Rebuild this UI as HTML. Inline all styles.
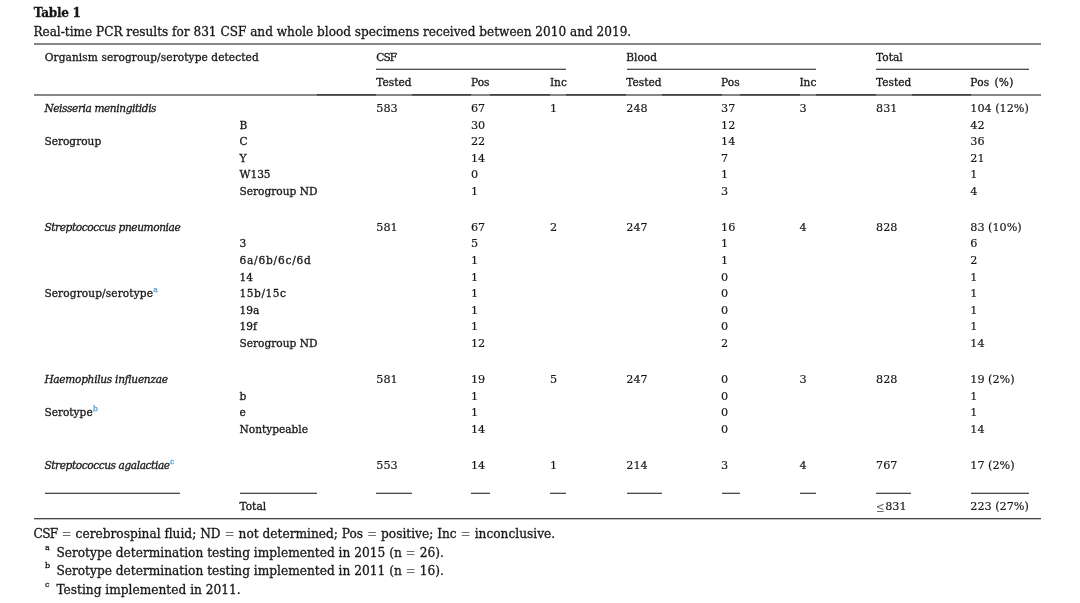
<!DOCTYPE html>
<html lang="en"><head><meta charset="utf-8"><title>Table 1</title>
<style>
html,body{margin:0;padding:0;background:#fff;}
body{width:1080px;height:603px;position:relative;overflow:hidden;color:#181818;
 font-family:"DejaVu Serif","Liberation Serif",serif;}
.t{position:absolute;white-space:nowrap;line-height:1;-webkit-text-stroke:0.3px currentColor;}
.b{font-size:10.6px;}
.c{font-size:12.2px;}
.bold{font-weight:bold;}
.n{font-size:11.2px;-webkit-text-stroke-width:0.18px;}
.it{font-style:italic;letter-spacing:-0.42px;}
.l{position:absolute;}
#w{position:absolute;left:0;top:0;width:1080px;height:603px;will-change:transform;}
sup{font-size:7.5px;color:#4aa3df;vertical-align:baseline;position:relative;top:-5.2px;line-height:0;font-style:normal;letter-spacing:0;margin-left:0.3px}
sup.fs{color:#181818;top:-6.8px;font-size:8px;margin:0}
.eq{color:#707070;-webkit-text-stroke:0}
.le{color:#6a6a6a;-webkit-text-stroke:0;font-size:14px;line-height:0;display:inline-block;transform:scaleX(0.75);transform-origin:0 50%;margin-right:-2.6px;position:relative;top:1.6px;left:0.3px}
</style></head><body>
<div id="w">

<div class="l" style="left:33.6px;top:43.0px;width:1007.0px;height:2px;background:#868686"></div>
<div class="l" style="left:33.6px;top:94.0px;width:1007.0px;height:2px;background:#868686"></div>
<div class="l" style="left:317.0px;top:94.0px;width:59.4px;height:1px;background:#424242"></div>
<div class="l" style="left:317.0px;top:95.0px;width:59.4px;height:1px;background:#5e5e5e"></div>
<div class="l" style="left:411.8px;top:94.0px;width:59.6px;height:1px;background:#424242"></div>
<div class="l" style="left:411.8px;top:95.0px;width:59.6px;height:1px;background:#5e5e5e"></div>
<div class="l" style="left:490.0px;top:94.0px;width:60.4px;height:1px;background:#424242"></div>
<div class="l" style="left:490.0px;top:95.0px;width:60.4px;height:1px;background:#5e5e5e"></div>
<div class="l" style="left:566.2px;top:94.0px;width:60.3px;height:1px;background:#424242"></div>
<div class="l" style="left:566.2px;top:95.0px;width:60.3px;height:1px;background:#5e5e5e"></div>
<div class="l" style="left:662.0px;top:94.0px;width:59.5px;height:1px;background:#424242"></div>
<div class="l" style="left:662.0px;top:95.0px;width:59.5px;height:1px;background:#5e5e5e"></div>
<div class="l" style="left:740.0px;top:94.0px;width:60.0px;height:1px;background:#424242"></div>
<div class="l" style="left:740.0px;top:95.0px;width:60.0px;height:1px;background:#5e5e5e"></div>
<div class="l" style="left:816.3px;top:94.0px;width:60.1px;height:1px;background:#424242"></div>
<div class="l" style="left:816.3px;top:95.0px;width:60.1px;height:1px;background:#5e5e5e"></div>
<div class="l" style="left:911.5px;top:94.0px;width:59.5px;height:1px;background:#424242"></div>
<div class="l" style="left:911.5px;top:95.0px;width:59.5px;height:1px;background:#5e5e5e"></div>
<div class="l" style="left:376.4px;top:68.0px;width:189.8px;height:1px;background:#c2c2c2"></div>
<div class="l" style="left:376.4px;top:69.0px;width:189.8px;height:1px;background:#505050"></div>
<div class="l" style="left:626.5px;top:68.0px;width:189.8px;height:1px;background:#c2c2c2"></div>
<div class="l" style="left:626.5px;top:69.0px;width:189.8px;height:1px;background:#505050"></div>
<div class="l" style="left:876.4px;top:68.0px;width:152.6px;height:1px;background:#c2c2c2"></div>
<div class="l" style="left:876.4px;top:69.0px;width:152.6px;height:1px;background:#505050"></div>
<div class="l" style="left:44.8px;top:492.0px;width:135.6px;height:1px;background:#c6c6c6"></div>
<div class="l" style="left:44.8px;top:493.0px;width:135.6px;height:1px;background:#4c4c4c"></div>
<div class="l" style="left:240.2px;top:492.0px;width:76.8px;height:1px;background:#c6c6c6"></div>
<div class="l" style="left:240.2px;top:493.0px;width:76.8px;height:1px;background:#4c4c4c"></div>
<div class="l" style="left:376.4px;top:492.0px;width:35.4px;height:1px;background:#c6c6c6"></div>
<div class="l" style="left:376.4px;top:493.0px;width:35.4px;height:1px;background:#4c4c4c"></div>
<div class="l" style="left:471.4px;top:492.0px;width:18.6px;height:1px;background:#c6c6c6"></div>
<div class="l" style="left:471.4px;top:493.0px;width:18.6px;height:1px;background:#4c4c4c"></div>
<div class="l" style="left:550.4px;top:492.0px;width:15.8px;height:1px;background:#c6c6c6"></div>
<div class="l" style="left:550.4px;top:493.0px;width:15.8px;height:1px;background:#4c4c4c"></div>
<div class="l" style="left:626.5px;top:492.0px;width:35.5px;height:1px;background:#c6c6c6"></div>
<div class="l" style="left:626.5px;top:493.0px;width:35.5px;height:1px;background:#4c4c4c"></div>
<div class="l" style="left:721.5px;top:492.0px;width:18.5px;height:1px;background:#c6c6c6"></div>
<div class="l" style="left:721.5px;top:493.0px;width:18.5px;height:1px;background:#4c4c4c"></div>
<div class="l" style="left:800.0px;top:492.0px;width:16.3px;height:1px;background:#c6c6c6"></div>
<div class="l" style="left:800.0px;top:493.0px;width:16.3px;height:1px;background:#4c4c4c"></div>
<div class="l" style="left:876.4px;top:492.0px;width:35.1px;height:1px;background:#c6c6c6"></div>
<div class="l" style="left:876.4px;top:493.0px;width:35.1px;height:1px;background:#4c4c4c"></div>
<div class="l" style="left:971.0px;top:492.0px;width:58.0px;height:1px;background:#c6c6c6"></div>
<div class="l" style="left:971.0px;top:493.0px;width:58.0px;height:1px;background:#4c4c4c"></div>
<div class="l" style="left:33.6px;top:518.0px;width:1007.0px;height:1px;background:#484848"></div>
<div class="l" style="left:33.6px;top:519.0px;width:1007.0px;height:1px;background:#c0c0c0"></div>
<div class="t c bold" style="left:33.7px;top:7.00px;font-size:12.1px;letter-spacing:-0.3px">Table 1</div>
<div class="t c" style="left:33.4px;top:26.00px;font-size:12.1px">Real-time PCR results for 831 CSF and whole blood specimens received between 2010 and 2019.</div>
<div class="t b" style="left:44.8px;top:52.00px;letter-spacing:0.08px">Organism serogroup/serotype detected</div>
<div class="t b" style="left:376.3px;top:52.00px;letter-spacing:-0.9px">CSF</div>
<div class="t b" style="left:626.3px;top:52.00px;">Blood</div>
<div class="t b" style="left:876.1px;top:52.00px;">Total</div>
<div class="t b" style="left:376.3px;top:77.00px;">Tested</div>
<div class="t b" style="left:626.3px;top:77.00px;">Tested</div>
<div class="t b" style="left:876.1px;top:77.00px;">Tested</div>
<div class="t b" style="left:471.0px;top:77.00px;">Pos</div>
<div class="t b" style="left:721.1px;top:77.00px;">Pos</div>
<div class="t b" style="left:549.9px;top:77.00px;">Inc</div>
<div class="t b" style="left:799.4px;top:77.00px;">Inc</div>
<div class="t b" style="left:970.3px;top:77.00px;letter-spacing:0.25px;word-spacing:1.3px">Pos (%)</div>
<div class="t b it" style="left:44.4px;top:103.00px;">Neisseria meningitidis</div>
<div class="t b n" style="left:376.3px;top:103.00px;">583</div>
<div class="t b n" style="left:471.0px;top:103.00px;">67</div>
<div class="t b n" style="left:549.9px;top:103.00px;">1</div>
<div class="t b n" style="left:626.3px;top:103.00px;">248</div>
<div class="t b n" style="left:721.1px;top:103.00px;">37</div>
<div class="t b n" style="left:799.4px;top:103.00px;">3</div>
<div class="t b n" style="left:876.1px;top:103.00px;">831</div>
<div class="t b n" style="left:970.3px;top:103.00px;">104 (12%)</div>
<div class="t b" style="left:239.5px;top:120.00px;">B</div>
<div class="t b n" style="left:471.0px;top:120.00px;">30</div>
<div class="t b n" style="left:721.1px;top:120.00px;">12</div>
<div class="t b n" style="left:970.3px;top:120.00px;">42</div>
<div class="t b" style="left:44.4px;top:136.00px;">Serogroup</div>
<div class="t b" style="left:239.5px;top:136.00px;">C</div>
<div class="t b n" style="left:471.0px;top:136.00px;">22</div>
<div class="t b n" style="left:721.1px;top:136.00px;">14</div>
<div class="t b n" style="left:970.3px;top:136.00px;">36</div>
<div class="t b" style="left:239.5px;top:153.00px;">Y</div>
<div class="t b n" style="left:471.0px;top:153.00px;">14</div>
<div class="t b n" style="left:721.1px;top:153.00px;">7</div>
<div class="t b n" style="left:970.3px;top:153.00px;">21</div>
<div class="t b" style="left:239.5px;top:169.00px;">W135</div>
<div class="t b n" style="left:471.0px;top:169.00px;">0</div>
<div class="t b n" style="left:721.1px;top:169.00px;">1</div>
<div class="t b n" style="left:970.3px;top:169.00px;">1</div>
<div class="t b" style="left:239.5px;top:186.00px;">Serogroup ND</div>
<div class="t b n" style="left:471.0px;top:186.00px;">1</div>
<div class="t b n" style="left:721.1px;top:186.00px;">3</div>
<div class="t b n" style="left:970.3px;top:186.00px;">4</div>
<div class="t b it" style="left:44.4px;top:222.00px;">Streptococcus pneumoniae</div>
<div class="t b n" style="left:376.3px;top:222.00px;">581</div>
<div class="t b n" style="left:471.0px;top:222.00px;">67</div>
<div class="t b n" style="left:549.9px;top:222.00px;">2</div>
<div class="t b n" style="left:626.3px;top:222.00px;">247</div>
<div class="t b n" style="left:721.1px;top:222.00px;">16</div>
<div class="t b n" style="left:799.4px;top:222.00px;">4</div>
<div class="t b n" style="left:876.1px;top:222.00px;">828</div>
<div class="t b n" style="left:970.3px;top:222.00px;">83 (10%)</div>
<div class="t b" style="left:239.5px;top:238.00px;">3</div>
<div class="t b n" style="left:471.0px;top:238.00px;">5</div>
<div class="t b n" style="left:721.1px;top:238.00px;">1</div>
<div class="t b n" style="left:970.3px;top:238.00px;">6</div>
<div class="t b" style="left:239.5px;top:255.00px;"><span style="letter-spacing:0.78px">6a/6b/6c/6d</span></div>
<div class="t b n" style="left:471.0px;top:255.00px;">1</div>
<div class="t b n" style="left:721.1px;top:255.00px;">1</div>
<div class="t b n" style="left:970.3px;top:255.00px;">2</div>
<div class="t b" style="left:239.5px;top:272.00px;">14</div>
<div class="t b n" style="left:471.0px;top:272.00px;">1</div>
<div class="t b n" style="left:721.1px;top:272.00px;">0</div>
<div class="t b n" style="left:970.3px;top:272.00px;">1</div>
<div class="t b" style="left:44.4px;top:288.00px;"><span style="letter-spacing:0.1px">Serogroup/serotype</span><sup>a</sup></div>
<div class="t b" style="left:239.5px;top:288.00px;"><span style="letter-spacing:0.55px">15b/15c</span></div>
<div class="t b n" style="left:471.0px;top:288.00px;">1</div>
<div class="t b n" style="left:721.1px;top:288.00px;">0</div>
<div class="t b n" style="left:970.3px;top:288.00px;">1</div>
<div class="t b" style="left:239.5px;top:305.00px;">19a</div>
<div class="t b n" style="left:471.0px;top:305.00px;">1</div>
<div class="t b n" style="left:721.1px;top:305.00px;">0</div>
<div class="t b n" style="left:970.3px;top:305.00px;">1</div>
<div class="t b" style="left:239.5px;top:321.00px;">19f</div>
<div class="t b n" style="left:471.0px;top:321.00px;">1</div>
<div class="t b n" style="left:721.1px;top:321.00px;">0</div>
<div class="t b n" style="left:970.3px;top:321.00px;">1</div>
<div class="t b" style="left:239.5px;top:338.00px;">Serogroup ND</div>
<div class="t b n" style="left:471.0px;top:338.00px;">12</div>
<div class="t b n" style="left:721.1px;top:338.00px;">2</div>
<div class="t b n" style="left:970.3px;top:338.00px;">14</div>
<div class="t b it" style="left:44.4px;top:374.00px;"><span style="letter-spacing:-0.3px">Haemophilus influenzae</span></div>
<div class="t b n" style="left:376.3px;top:374.00px;">581</div>
<div class="t b n" style="left:471.0px;top:374.00px;">19</div>
<div class="t b n" style="left:549.9px;top:374.00px;">5</div>
<div class="t b n" style="left:626.3px;top:374.00px;">247</div>
<div class="t b n" style="left:721.1px;top:374.00px;">0</div>
<div class="t b n" style="left:799.4px;top:374.00px;">3</div>
<div class="t b n" style="left:876.1px;top:374.00px;">828</div>
<div class="t b n" style="left:970.3px;top:374.00px;">19 (2%)</div>
<div class="t b" style="left:239.5px;top:391.00px;">b</div>
<div class="t b n" style="left:471.0px;top:391.00px;">1</div>
<div class="t b n" style="left:721.1px;top:391.00px;">0</div>
<div class="t b n" style="left:970.3px;top:391.00px;">1</div>
<div class="t b" style="left:44.4px;top:407.00px;">Serotype<sup>b</sup></div>
<div class="t b" style="left:239.5px;top:407.00px;">e</div>
<div class="t b n" style="left:471.0px;top:407.00px;">1</div>
<div class="t b n" style="left:721.1px;top:407.00px;">0</div>
<div class="t b n" style="left:970.3px;top:407.00px;">1</div>
<div class="t b" style="left:239.5px;top:424.00px;">Nontypeable</div>
<div class="t b n" style="left:471.0px;top:424.00px;">14</div>
<div class="t b n" style="left:721.1px;top:424.00px;">0</div>
<div class="t b n" style="left:970.3px;top:424.00px;">14</div>
<div class="t b it" style="left:44.4px;top:460.00px;">Streptococcus agalactiae<sup class="ni">c</sup></div>
<div class="t b n" style="left:376.3px;top:460.00px;">553</div>
<div class="t b n" style="left:471.0px;top:460.00px;">14</div>
<div class="t b n" style="left:549.9px;top:460.00px;">1</div>
<div class="t b n" style="left:626.3px;top:460.00px;">214</div>
<div class="t b n" style="left:721.1px;top:460.00px;">3</div>
<div class="t b n" style="left:799.4px;top:460.00px;">4</div>
<div class="t b n" style="left:876.1px;top:460.00px;">767</div>
<div class="t b n" style="left:970.3px;top:460.00px;">17 (2%)</div>
<div class="t b" style="left:239.5px;top:501.00px;">Total</div>
<div class="t b n" style="left:876.1px;top:501.00px;"><span class="le">≤</span>831</div>
<div class="t b n" style="left:970.3px;top:501.00px;">223 (27%)</div>
<div class="t c" style="left:33.6px;top:528.00px;"><span style="letter-spacing:-0.7px">CSF</span> <span class="eq">=</span> cerebrospinal fluid; ND <span class="eq">=</span> not determined; Pos <span class="eq">=</span> positive; Inc <span class="eq">=</span> inconclusive.</div>
<div class="t c" style="left:45.0px;top:547.00px;"><sup class="fs">a</sup></div>
<div class="t c" style="left:56.4px;top:547.00px;">Serotype determination testing implemented in 2015 (n <span class="eq">=</span> 26).</div>
<div class="t c" style="left:45.0px;top:565.00px;"><sup class="fs">b</sup></div>
<div class="t c" style="left:56.4px;top:565.00px;">Serotype determination testing implemented in 2011 (n <span class="eq">=</span> 16).</div>
<div class="t c" style="left:45.0px;top:584.00px;"><sup class="fs">c</sup></div>
<div class="t c" style="left:56.4px;top:584.00px;">Testing implemented in 2011.</div>
</div>
</body></html>
